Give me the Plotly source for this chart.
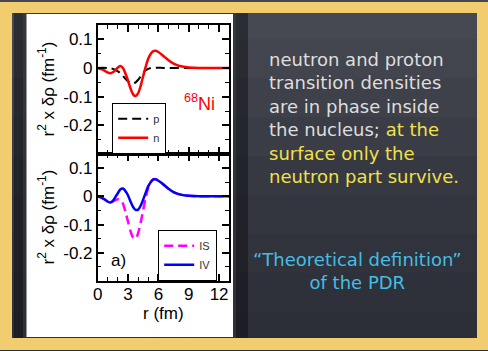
import plotly.graph_objects as go

# ---------------- data ----------------
r = [0, 0.5, 1.0, 1.25, 1.5, 2.0, 2.25, 2.5, 2.75, 3.0, 3.25, 3.5, 3.75, 4.0,
     4.25, 4.5, 4.75, 5.0, 5.25, 5.5, 5.75, 6.0, 6.5, 7.0, 7.5, 8.0, 8.5, 9.0,
     10.0, 11.0, 12.0, 13.0]

rho_p = [0, 0.001, 0.0, -0.001, -0.003, -0.012, -0.019, -0.028, -0.038, -0.047,
         -0.053, -0.054, -0.050, -0.041, -0.029, -0.017, -0.008, -0.003, 0.0,
         0.001, 0.001, 0.001, 0.0, 0.0, 0.0, 0.0, 0.0, 0.0, 0.0, 0.0, 0.0, 0.0]

rho_n = [0, -0.006, -0.016, -0.018, -0.015, 0.002, 0.007, 0.000, -0.020, -0.044,
         -0.072, -0.092, -0.098, -0.088, -0.062, -0.028, 0.005, 0.033, 0.050,
         0.059, 0.060, 0.056, 0.042, 0.027, 0.015, 0.008, 0.004, 0.002, 0.0,
         0.0, 0.0, 0.0]

rho_is = [0, -0.006, -0.017, -0.020, -0.018, -0.010, -0.012, -0.026, -0.056,
          -0.090, -0.124, -0.146, -0.150, -0.130, -0.093, -0.048, -0.005, 0.030,
          0.051, 0.060, 0.061, 0.057, 0.042, 0.027, 0.015, 0.008, 0.004, 0.002,
          0.0, 0.0, 0.0, 0.0]

rho_iv = [0, -0.007, -0.019, -0.022, -0.016, 0.012, 0.025, 0.028, 0.018, 0.003,
          -0.019, -0.038, -0.048, -0.047, -0.033, -0.011, 0.013, 0.036, 0.051,
          0.060, 0.060, 0.055, 0.042, 0.027, 0.015, 0.008, 0.004, 0.002, 0.0,
          0.0, 0.0, 0.0]

x_ticks = [0, 3, 6, 9, 12]
x_ticktext = ["0", "3", "6", "9", "12"]
y_ticks = [-0.2, -0.1, 0, 0.1]
y_ticktext = ["-0.2", "-0.1", "0", "0.1"]

text_lines = ["neutron and proton", "transition densities", "are in phase inside",
              "the nucleus; ", "at the", "surface only the", "neutron part survive."]
quote_lines = ["\u201cTheoretical definition\u201d", "of the PDR"]

# ---------------- helpers (pixel -> paper) ----------------
W, H = 488, 351
def fx(px):
    return px / W
def fy(py):
    return 1 - py / H

AX_FONT = dict(family="Liberation Sans, Arial, sans-serif", size=17, color="black")

fig = go.Figure()

fig.add_trace(go.Scatter(x=r, y=rho_p, mode="lines", name="p",
                         line=dict(color="black", width=2, dash="9px,5px", shape="spline", smoothing=0.8),
                         xaxis="x", yaxis="y", legend="legend"))
fig.add_trace(go.Scatter(x=r, y=rho_n, mode="lines", name="n",
                         line=dict(color="#ff0000", width=2.5, shape="spline", smoothing=0.8),
                         xaxis="x", yaxis="y", legend="legend"))
fig.add_trace(go.Scatter(x=r, y=rho_is, mode="lines", name="IS",
                         line=dict(color="#ff00ff", width=2.5, dash="9px,5px", shape="spline", smoothing=0.8),
                         xaxis="x2", yaxis="y2", legend="legend2"))
fig.add_trace(go.Scatter(x=r, y=rho_iv, mode="lines", name="IV",
                         line=dict(color="#0000ff", width=2.5, shape="spline", smoothing=0.8),
                         xaxis="x2", yaxis="y2", legend="legend2"))

common_x = dict(range=[0, 13], tickmode="array", tickvals=x_ticks, ticks="inside",
                ticklen=7, tickwidth=1.5, tickcolor="black", showline=True,
                linecolor="black", linewidth=1.5, mirror="ticks", showgrid=False,
                zeroline=False, automargin=False,
                minor=dict(dtick=1, tick0=0, ticks="inside", ticklen=4,
                           tickwidth=1.2, tickcolor="black", showgrid=False))
common_y = dict(range=[-0.3, 0.15], tickmode="array", tickvals=y_ticks,
                ticktext=y_ticktext, ticks="inside", ticklen=7, tickwidth=1.5,
                tickcolor="black", showline=True, linecolor="black", linewidth=1.5,
                mirror="ticks", showgrid=False, zeroline=False, automargin=False,
                tickfont=AX_FONT,
                minor=dict(dtick=0.05, tick0=0, ticks="inside", ticklen=4,
                           tickwidth=1.2, tickcolor="black", showgrid=False))

xdom = [fx(97.7), fx(229.2)]
fig.update_layout(
    xaxis=dict(domain=xdom, anchor="y", showticklabels=False, **common_x),
    yaxis=dict(domain=[fy(154), fy(25)], anchor="x", **common_y),
    xaxis2=dict(domain=xdom, anchor="y2", ticktext=x_ticktext, tickfont=AX_FONT,
                ticklabelstandoff=-3, **common_x),
    yaxis2=dict(domain=[fy(281), fy(154)], anchor="x2", **common_y),
)

# ---------------- background decoration ----------------
shapes = []
board = ["#464952", "#42454e", "#3e414a", "#3a3d46", "#363942", "#33363e",
         "#30333b", "#2e3139", "#2c2f37"]
nb = len(board)
for i, c in enumerate(board):
    shapes.append(dict(type="rect", xref="paper", yref="paper", x0=0, x1=1,
                       y0=1 - (i + 1) / nb, y1=1 - i / nb, fillcolor=c,
                       line=dict(width=0), layer="below"))
# shadow + white panel
shapes.append(dict(type="rect", xref="paper", yref="paper", x0=fx(14), x1=fx(248),
                   y0=fy(344), y1=fy(8), fillcolor="rgba(10,12,16,0.45)",
                   line=dict(width=0), layer="below"))
shapes.append(dict(type="rect", xref="paper", yref="paper", x0=fx(23), x1=fx(236),
                   y0=fy(340), y1=fy(11), fillcolor="rgba(60,62,66,0.6)",
                   line=dict(width=0), layer="below"))
shapes.append(dict(type="rect", xref="paper", yref="paper", x0=fx(26.5), x1=fx(233),
                   y0=fy(337), y1=fy(14), fillcolor="white",
                   line=dict(width=0), layer="below"))
# chalk frame
YEL = "#f1cd70"
for (x0, x1, y0, y1) in [(0, 488, 2, 13), (0, 488, 338, 350), (0, 12, 2, 350), (477, 488, 2, 350)]:
    shapes.append(dict(type="rect", xref="paper", yref="paper", x0=fx(x0), x1=fx(x1),
                       y0=fy(y1), y1=fy(y0), fillcolor=YEL, line=dict(width=0), layer="below"))
fig.update_layout(shapes=shapes)

# ---------------- annotations ----------------
ann = []
ytitle = "r<sup>2</sup> x \u03b4\u03c1 (fm<sup>-1</sup>)"
ann.append(dict(text=ytitle, xref="paper", yref="paper", x=fx(46), y=fy(89.5),
                textangle=-90, showarrow=False, font=AX_FONT, xanchor="center", yanchor="middle"))
ann.append(dict(text=ytitle, xref="paper", yref="paper", x=fx(46), y=fy(217.5),
                textangle=-90, showarrow=False, font=AX_FONT, xanchor="center", yanchor="middle"))
ann.append(dict(text="r (fm)", xref="paper", yref="paper", x=fx(163.5), y=fy(313),
                showarrow=False, font=AX_FONT, xanchor="center", yanchor="middle"))
ann.append(dict(text="<sup>68</sup>Ni", xref="paper", yref="paper", x=fx(199), y=fy(103),
                showarrow=False, font=dict(family="Liberation Sans, Arial", size=18, color="#ff0000"),
                xanchor="center", yanchor="middle"))
ann.append(dict(text="a)", xref="paper", yref="paper", x=fx(118), y=fy(260),
                showarrow=False, font=AX_FONT, xanchor="center", yanchor="middle"))

CHALK = "DejaVu Sans, sans-serif"
WHITE_T = "#dedede"
YEL_T = "#f2e04a"
CYAN_T = "#45bde6"
block = (text_lines[0] + "<br>" + text_lines[1] + "<br>" + text_lines[2] + "<br>" +
         text_lines[3] + "<span style='color:%s'>%s</span><br>" % (YEL_T, text_lines[4]) +
         "<span style='color:%s'>%s</span><br>" % (YEL_T, text_lines[5]) +
         "<span style='color:%s'>%s</span>" % (YEL_T, text_lines[6]))
ann.append(dict(text=block, xref="paper", yref="paper", x=fx(267), y=fy(118),
                showarrow=False, align="left", xanchor="left", yanchor="middle",
                font=dict(family=CHALK, size=18, color=WHITE_T)))
ann.append(dict(text="<br>".join(quote_lines), xref="paper", yref="paper", x=fx(357), y=fy(270.5),
                showarrow=False, align="center", xanchor="center", yanchor="middle",
                font=dict(family=CHALK, size=18, color=CYAN_T)))
fig.update_layout(annotations=ann)

LEG_FONT = dict(family="Liberation Sans, Arial", size=11, color="#333333")
fig.update_layout(
    legend=dict(x=fx(112), y=fy(103), xanchor="left", yanchor="top",
                bgcolor="white", bordercolor="black", borderwidth=1.2,
                font=LEG_FONT, tracegroupgap=0, itemwidth=30),
    legend2=dict(x=fx(158), y=fy(230), xanchor="left", yanchor="top",
                 bgcolor="white", bordercolor="black", borderwidth=1.2,
                 font=LEG_FONT, tracegroupgap=0, itemwidth=30),
    showlegend=True,
    width=W, height=H,
    margin=dict(l=0, r=0, t=0, b=0),
    paper_bgcolor="#383b44",
    plot_bgcolor="rgba(0,0,0,0)",
)

fig.write_html("out.html")
